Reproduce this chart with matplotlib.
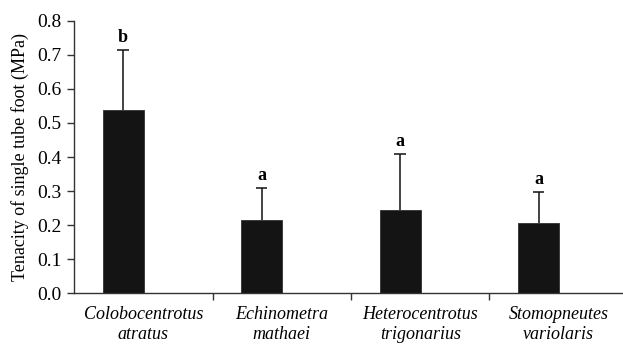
import numpy as np
import matplotlib
matplotlib.use("Agg")
import matplotlib.pyplot as plt

# средние значения прикрепления одиночной амбулакральной ножки, МПа
species = ["Colobocentrotus\natratus", "Echinometra\nmathaei",
           "Heterocentrotus\ntrigonarius", "Stomopneutes\nvariolaris"]
tenacity = [0.538, 0.214, 0.246, 0.205]
sd = [0.177, 0.096, 0.163, 0.092]
groups = ["b", "a", "a", "a"]

plt.rcParams["font.family"] = ["Liberation Serif", "DejaVu Serif"]

fig = plt.figure(figsize=(6.23, 3.48), dpi=100)
ax = fig.add_axes([0.1188, 0.157, 0.8812, 0.7835])

x = np.arange(len(species))
xb = x - 0.146
m = np.array(tenacity)
top = m + np.array(sd)
ax.bar(xb, m, width=0.296, color="#141414", edgecolor="#303030", lw=0.6, zorder=2)
# усы только вверх, кап только сверху
ax.vlines(xb, m, top, color="#111111", lw=1.1, zorder=1)
ax.hlines(top, xb - 0.04, xb + 0.04, color="#111111", lw=1.1, zorder=1)
for xi, t, g in zip(xb, top, groups):
    ax.annotate(g, (xi, t), xytext=(0, 3), textcoords="offset points",
                ha="center", va="bottom", fontsize=13, fontweight="bold")

ax.set_xlim(-0.5, 3.464)
ax.set_ylim(0, 0.8)
ax.set_yticks(np.arange(0, 0.81, 0.1))
ax.set_yticklabels([f"{v:.1f}" for v in np.arange(0, 0.81, 0.1)])
ax.set_xticks(x[:-1] + 0.5)
ax.set_xticklabels([])
ax.set_xticks(x, minor=True)
ax.set_xticklabels(species, minor=True, style="italic", fontsize=13, linespacing=1.25)
ax.tick_params(axis="x", which="minor", length=0, pad=9)
ax.tick_params(axis="x", which="major", direction="out", length=5, width=1, color="#333333")
ax.tick_params(axis="y", direction="out", length=5, width=1, color="#333333",
               labelsize=14, pad=4)

for side in ("top", "right"):
    ax.spines[side].set_visible(False)
for side in ("left", "bottom"):
    ax.spines[side].set_color("#333333")
    ax.spines[side].set_linewidth(1)

ax.set_ylabel("Tenacity of single tube foot (MPa)", fontsize=13, labelpad=6)

fig.savefig("out.png", dpi=100)
